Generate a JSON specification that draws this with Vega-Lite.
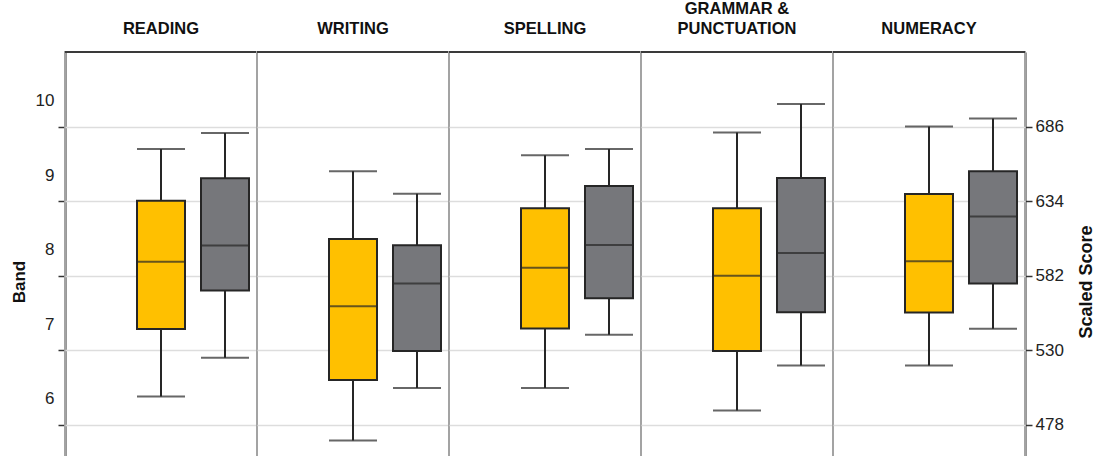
{
  "$schema": "https://vega.github.io/schema/vega-lite/v6.json",
  "padding": {"left": 10, "top": 0, "right": 0, "bottom": 0},
  "background": "white",
  "bounds": "flush",
  "config": {
    "font": "Liberation Sans",
    "view": {"stroke": "#a3a3a3", "strokeWidth": 2}
  },
  "data": {
    "values": [
      {"subject": "READING", "group": "Series A", "lower": 497.8, "q1": 544.8, "median": 591.8, "q3": 634.3, "upper": 670.4},
      {"subject": "READING", "group": "Series B", "lower": 524.8, "q1": 571.7, "median": 603.1, "q3": 649.9, "upper": 681.6},
      {"subject": "WRITING", "group": "Series A", "lower": 467.1, "q1": 509.4, "median": 560.8, "q3": 607.6, "upper": 654.8},
      {"subject": "WRITING", "group": "Series B", "lower": 503.8, "q1": 529.6, "median": 576.6, "q3": 603.2, "upper": 639.2},
      {"subject": "SPELLING", "group": "Series A", "lower": 503.8, "q1": 545.2, "median": 587.6, "q3": 629.0, "upper": 666.0},
      {"subject": "SPELLING", "group": "Series B", "lower": 540.8, "q1": 566.4, "median": 603.4, "q3": 644.6, "upper": 670.4},
      {"subject": "GRAMMAR & PUNCTUATION", "group": "Series A", "lower": 488.0, "q1": 529.6, "median": 582.0, "q3": 629.0, "upper": 681.8},
      {"subject": "GRAMMAR & PUNCTUATION", "group": "Series B", "lower": 519.4, "q1": 556.6, "median": 597.8, "q3": 650.2, "upper": 701.8},
      {"subject": "NUMERACY", "group": "Series A", "lower": 519.4, "q1": 556.4, "median": 592.2, "q3": 639.0, "upper": 686.0},
      {"subject": "NUMERACY", "group": "Series B", "lower": 545.0, "q1": 576.6, "median": 623.4, "q3": 654.8, "upper": 691.6}
    ]
  },
  "facet": {
    "column": {
      "field": "subject",
      "type": "nominal",
      "sort": ["READING", "WRITING", "SPELLING", "GRAMMAR & PUNCTUATION", "NUMERACY"],
      "title": null,
      "header": {
        "labelFontSize": 16.5,
        "labelFontWeight": "bold",
        "labelColor": "#111111",
        "labelPadding": 7,
        "labelLineHeight": 20,
        "labelBaseline": "middle",
        "labelExpr": "datum.value == 'GRAMMAR & PUNCTUATION' ? ['GRAMMAR &', 'PUNCTUATION'] : datum.value"
      }
    }
  },
  "spacing": 0,
  "spec": {
    "width": 192,
    "height": 459,
    "layer": [
      {
        "mark": {"type": "rule", "color": "#3a3a3a", "strokeWidth": 2},
        "encoding": {
          "y": {"datum": 738, "type": "quantitative", "scale": {"domain": [418, 738], "nice": false, "zero": false}, "axis": null}
        }
      },
      {
        "mark": {"type": "rule", "color": "#262626", "strokeWidth": 2},
        "encoding": {
          "x": {"field": "group", "type": "nominal", "scale": {"domain": ["", "Series A", "Series B"], "paddingInner": 0, "paddingOuter": 0}, "axis": null},
          "y": {
            "field": "lower", "type": "quantitative",
            "scale": {"domain": [418, 738], "nice": false, "zero": false},
            "axis": {
              "orient": "left", "title": "Band",
              "values": [478, 530, 582, 634, 686],
              "labelExpr": "format((datum.value - 478) / 52 + 6, 'd')",
              "labelOffset": -26,
              "labelFlush": false, "labelOverlap": false, "labelBound": false,
              "tickSize": 7, "tickColor": "#333333", "tickWidth": 1.5,
              "domainColor": "#333333", "domainWidth": 2,
              "labelPadding": 4, "labelFontSize": 17, "labelColor": "#222222",
              "titleFontSize": 17, "titleFontWeight": "bold", "titleColor": "#111111", "titlePadding": 7,
              "grid": true, "gridColor": "#dddddd", "gridWidth": 1.5
            }
          },
          "y2": {"field": "upper"}
        }
      },
      {
        "mark": {"type": "bar", "size": 48, "stroke": "#262626", "strokeWidth": 2},
        "encoding": {
          "x": {"field": "group", "type": "nominal", "axis": null},
          "y": {"field": "q1", "type": "quantitative", "axis": null},
          "y2": {"field": "q3"},
          "color": {"field": "group", "type": "nominal", "scale": {"domain": ["Series A", "Series B"], "range": ["#FFC000", "#76777B"]}, "legend": null}
        }
      },
      {
        "mark": {"type": "tick", "size": 48, "thickness": 2, "color": "#262626"},
        "encoding": {
          "x": {"field": "group", "type": "nominal", "axis": null},
          "y": {"field": "median", "type": "quantitative", "axis": null}
        }
      },
      {
        "mark": {"type": "tick", "size": 48, "thickness": 2, "color": "#262626"},
        "encoding": {
          "x": {"field": "group", "type": "nominal", "axis": null},
          "y": {"field": "lower", "type": "quantitative", "axis": null}
        }
      },
      {
        "mark": {"type": "tick", "size": 48, "thickness": 2, "color": "#262626"},
        "encoding": {
          "x": {"field": "group", "type": "nominal", "axis": null},
          "y": {
            "field": "upper", "type": "quantitative",
            "axis": {
              "orient": "right", "title": "Scaled Score", "titleAngle": 270,
              "values": [478, 530, 582, 634, 686],
              "labelFlush": false, "labelOverlap": false, "labelBound": false,
              "tickSize": 7, "tickColor": "#333333", "tickWidth": 1.5,
              "domainColor": "#333333", "domainWidth": 2,
              "labelPadding": 3, "labelFontSize": 17, "labelColor": "#222222",
              "titleFontSize": 18, "titleFontWeight": "bold", "titleColor": "#111111", "titlePadding": 32,
              "grid": false
            }
          }
        }
      }
    ],
    "resolve": {"axis": {"y": "independent"}}
  }
}
